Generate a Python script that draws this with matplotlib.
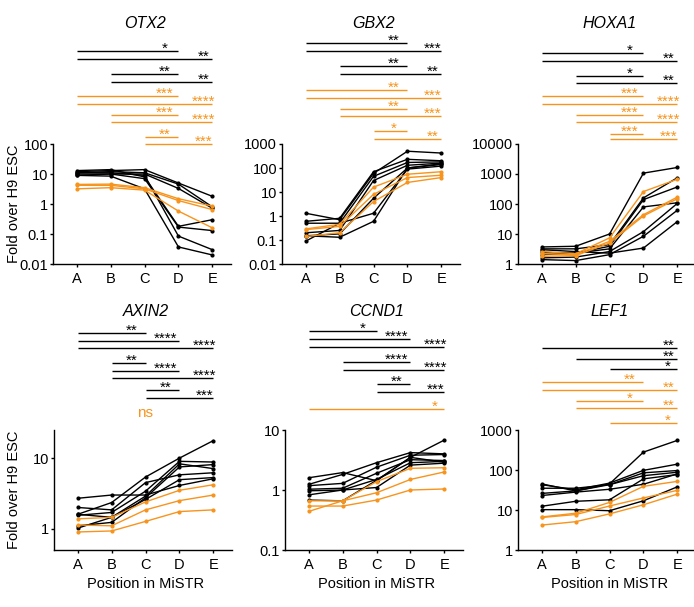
import matplotlib
matplotlib.use("Agg")
import matplotlib.pyplot as plt
from matplotlib import transforms

plt.rcParams['font.family'] = ['Liberation Sans', 'DejaVu Sans']

W, H = 694, 607
ORANGE = '#F7941D'

positions = ['A', 'B', 'C', 'D', 'E']

# ---- data (fold over H9 ESC) ----
otx2_black = [[12, 13, 14, 5.0, 1.8],
              [11, 12, 11, 4.6, 0.8],
              [10, 10, 10, 3.3, 0.72],
              [13, 14, 8, 0.18, 0.3],
              [9, 10, 7, 0.17, 0.13],
              [11, 11, 9, 0.085, 0.03],
              [9, 8.5, 3.2, 0.037, 0.02]]
otx2_orange = [[4.5, 4.6, 3.5, 1.5, 0.85],
               [4.2, 4.2, 3.2, 1.3, 0.65],
               [3.2, 3.5, 2.9, 0.58, 0.16]]

gbx2_black = [[1.3, 0.7, 60, 500, 420],
              [0.6, 0.8, 70, 230, 200],
              [0.5, 0.5, 45, 170, 180],
              [0.2, 0.25, 30, 130, 160],
              [0.15, 0.18, 5.5, 100, 140],
              [0.09, 0.5, 1.3, 90, 120],
              [0.15, 0.13, 0.6, 100, 150]]
gbx2_orange = [[0.29, 0.45, 16, 55, 70],
               [0.27, 0.37, 8, 40, 50],
               [0.14, 0.2, 4, 25, 40]]

hoxa1_black = [[3.7, 3.9, 10, 1070, 1650],
               [3.2, 3.2, 4.4, 160, 750],
               [2.45, 2.3, 3.9, 140, 370],
               [2.05, 2.3, 3.2, 80, 110],
               [1.6, 1.7, 2.6, 12, 105],
               [1.4, 1.3, 2.05, 8.4, 62],
               [3.0, 2.6, 2.3, 3.4, 26]]
hoxa1_orange = [[2.6, 2.2, 7.4, 260, 670],
                [2.2, 2.05, 5.7, 44, 170],
                [1.8, 1.9, 5.0, 40, 150]]

axin2_black = [[1.6, 2.35, 5.4, 10, 17.7],
               [2.7, 3.0, 3.0, 4.1, 5.1],
               [2.0, 1.85, 4.5, 5.8, 6.2],
               [1.55, 1.7, 3.4, 9.0, 8.8],
               [1.6, 1.45, 2.9, 8.3, 7.1],
               [1.1, 1.23, 2.75, 7.5, 8.1],
               [1.02, 1.45, 2.6, 4.95, 5.3]]
axin2_orange = [[1.38, 1.45, 2.4, 3.5, 4.2],
                [1.13, 1.1, 1.85, 2.5, 3.0],
                [0.9, 0.93, 1.27, 1.75, 1.85]]

ccnd1_black = [[1.6, 1.95, 1.43, 3.5, 6.8],
               [1.24, 1.82, 2.85, 4.2, 4.0],
               [1.18, 1.29, 2.4, 3.8, 3.9],
               [1.03, 1.07, 1.9, 3.2, 3.1],
               [0.97, 1.0, 1.5, 2.85, 3.0],
               [0.83, 1.0, 1.1, 2.6, 2.8],
               [0.68, 0.66, 1.45, 3.5, 2.9]]
ccnd1_orange = [[0.44, 0.66, 1.38, 2.3, 2.35],
                [0.66, 0.66, 0.9, 1.5, 2.0],
                [0.54, 0.54, 0.68, 1.0, 1.04]]

lef1_black = [[45, 30, 45, 280, 550],
              [43, 32, 47, 98, 140],
              [35, 35, 43, 85, 97],
              [26, 30, 43, 72, 88],
              [23, 28, 33, 44, 80],
              [12.4, 16.5, 18, 60, 77],
              [10.2, 10.2, 9.6, 17, 38]]
lef1_orange = [[6.7, 8.3, 15.5, 39, 52],
               [6.5, 7.7, 12.6, 20, 31],
               [4.2, 5.1, 8, 13.5, 25]]

# significance comparisons: (from, to, label, group)
otx2_sig = [('A', 'D', '*', 'k'), ('A', 'E', '**', 'k'),
            ('B', 'D', '**', 'k'), ('B', 'E', '**', 'k'),
            ('A', 'D', '***', 'o'), ('A', 'E', '****', 'o'),
            ('B', 'D', '***', 'o'), ('B', 'E', '****', 'o'),
            ('C', 'D', '**', 'o'), ('C', 'E', '***', 'o')]
gbx2_sig = [('A', 'D', '**', 'k'), ('A', 'E', '***', 'k'),
            ('B', 'D', '**', 'k'), ('B', 'E', '**', 'k'),
            ('A', 'D', '**', 'o'), ('A', 'E', '***', 'o'),
            ('B', 'D', '**', 'o'), ('B', 'E', '***', 'o'),
            ('C', 'D', '*', 'o'), ('C', 'E', '**', 'o')]
hoxa1_sig = [('A', 'D', '*', 'k'), ('A', 'E', '**', 'k'),
             ('B', 'D', '*', 'k'), ('B', 'E', '**', 'k'),
             ('A', 'D', '***', 'o'), ('A', 'E', '****', 'o'),
             ('B', 'D', '***', 'o'), ('B', 'E', '****', 'o'),
             ('C', 'D', '***', 'o'), ('C', 'E', '***', 'o')]
axin2_sig = [('A', 'C', '**', 'k'), ('A', 'D', '****', 'k'), ('A', 'E', '****', 'k'),
             ('B', 'C', '**', 'k'), ('B', 'D', '****', 'k'), ('B', 'E', '****', 'k'),
             ('C', 'D', '**', 'k'), ('C', 'E', '***', 'k')]
ccnd1_sig = [('A', 'C', '*', 'k'), ('A', 'D', '****', 'k'), ('A', 'E', '****', 'k'),
             ('B', 'D', '****', 'k'), ('B', 'E', '****', 'k'),
             ('C', 'D', '**', 'k'), ('C', 'E', '***', 'k'),
             ('A', 'E', '*', 'o')]
lef1_sig = [('A', 'E', '**', 'k'), ('B', 'E', '**', 'k'), ('C', 'E', '*', 'k'),
            ('A', 'D', '**', 'o'), ('A', 'E', '**', 'o'),
            ('B', 'D', '*', 'o'), ('B', 'E', '**', 'o'),
            ('C', 'E', '*', 'o')]

panels = [
    dict(title='OTX2', black=otx2_black, orange=otx2_orange, sig=otx2_sig,
         yticks=[0.01, 0.1, 1, 10, 100], ylabels=['0.01', '0.1', '1', '10', '100'],
         ylim=(0.01, 100)),
    dict(title='GBX2', black=gbx2_black, orange=gbx2_orange, sig=gbx2_sig,
         yticks=[0.01, 0.1, 1, 10, 100, 1000], ylabels=['0.01', '0.1', '1', '10', '100', '1000'],
         ylim=(0.01, 1000)),
    dict(title='HOXA1', black=hoxa1_black, orange=hoxa1_orange, sig=hoxa1_sig,
         yticks=[1, 10, 100, 1000, 10000], ylabels=['1', '10', '100', '1000', '10000'],
         ylim=(1, 10000)),
    dict(title='AXIN2', black=axin2_black, orange=axin2_orange, sig=axin2_sig,
         yticks=[1, 10], ylabels=['1', '10'], ylim=(0.5, 25), ns=True),
    dict(title='CCND1', black=ccnd1_black, orange=ccnd1_orange, sig=ccnd1_sig,
         yticks=[0.1, 1, 10], ylabels=['0.1', '1', '10'], ylim=(0.1, 10)),
    dict(title='LEF1', black=lef1_black, orange=lef1_orange, sig=lef1_sig,
         yticks=[1, 10, 100, 1000], ylabels=['1', '10', '100', '1000'], ylim=(1, 1000)),
]

# ---- layout in pixels ----
axes_px = [(53, 144), (282, 144), (518, 144), (54, 430), (285, 430), (518, 430)]
ax_w, ax_h = 178, 120
title_y = [23, 23, 23, 311, 311, 311]
sig_y = [[51, 59, 74, 82, 96, 104, 115, 122, 137, 144],
         [43, 51, 66, 74, 90, 98, 109, 116, 131, 139],
         [53, 61, 76, 83, 96, 104, 115, 122, 134, 139],
         [333, 341, 348, 363, 371, 378, 390, 398],
         [331, 339, 347, 362, 370, 384, 392, 409],
         [348, 359, 369, 382, 390, 401, 408, 423]]

fig = plt.figure(figsize=(W / 100, H / 100), dpi=100)


def fy(y):
    return 1 - y / H


for i, p in enumerate(panels):
    x0, y0 = axes_px[i]
    ax = fig.add_axes([x0 / W, fy(y0 + ax_h), ax_w / W, ax_h / H])
    xs = list(range(len(positions)))
    for row in p['black']:
        ax.plot(xs, row, color='black', lw=1.0, marker='o', ms=2.0, clip_on=False, zorder=3)
    for row in p['orange']:
        ax.plot(xs, row, color=ORANGE, lw=1.0, marker='o', ms=2.0, clip_on=False, zorder=4)
    ax.set_yscale('log')
    ax.set_ylim(*p['ylim'])
    ax.set_xlim(-0.7, 4.55)
    ax.set_yticks(p['yticks'])
    ax.set_yticklabels(p['ylabels'])
    ax.minorticks_off()
    ax.set_xticks(xs)
    ax.set_xticklabels(positions)
    for s in ['top', 'right']:
        ax.spines[s].set_visible(False)
    for s in ['left', 'bottom']:
        ax.spines[s].set_linewidth(1.0)
    ax.tick_params(axis='both', labelsize=10.5, width=1.0, length=2, pad=1.5)
    ax.tick_params(axis='x', pad=4)

    tr = transforms.blended_transform_factory(ax.transData, fig.transFigure)
    fig.text(2, fy(title_y[i]), p['title'], transform=tr, ha='center', va='center',
             fontsize=11.5, style='italic')
    for (a, b, lab, grp), yl in zip(p['sig'], sig_y[i]):
        c = 'black' if grp == 'k' else ORANGE
        xa, xb = positions.index(a), positions.index(b)
        ax.plot([xa, xb], [fy(yl), fy(yl)], transform=tr, color=c, lw=1.0,
                clip_on=False, solid_capstyle='butt')
        dx = 0.27 if b == 'E' else 0.4
        ax.text(xb - dx, fy(yl + 2.0), lab, transform=tr, ha='center', va='baseline',
                color=c, fontsize=11)
    if p.get('ns'):
        ax.text(2, fy(413), 'ns', transform=tr, ha='center', va='center',
                color=ORANGE, fontsize=11)
    if i in (0, 3):
        fig.text(14 / W, fy(y0 + ax_h / 2), 'Fold over H9 ESC', rotation=90,
                 ha='center', va='center', fontsize=10.5)
    if i >= 3:
        ax.text(2, fy(584), 'Position in MiSTR', transform=tr, ha='center', va='center',
                fontsize=10.5)

fig.savefig('out.png', dpi=100)
